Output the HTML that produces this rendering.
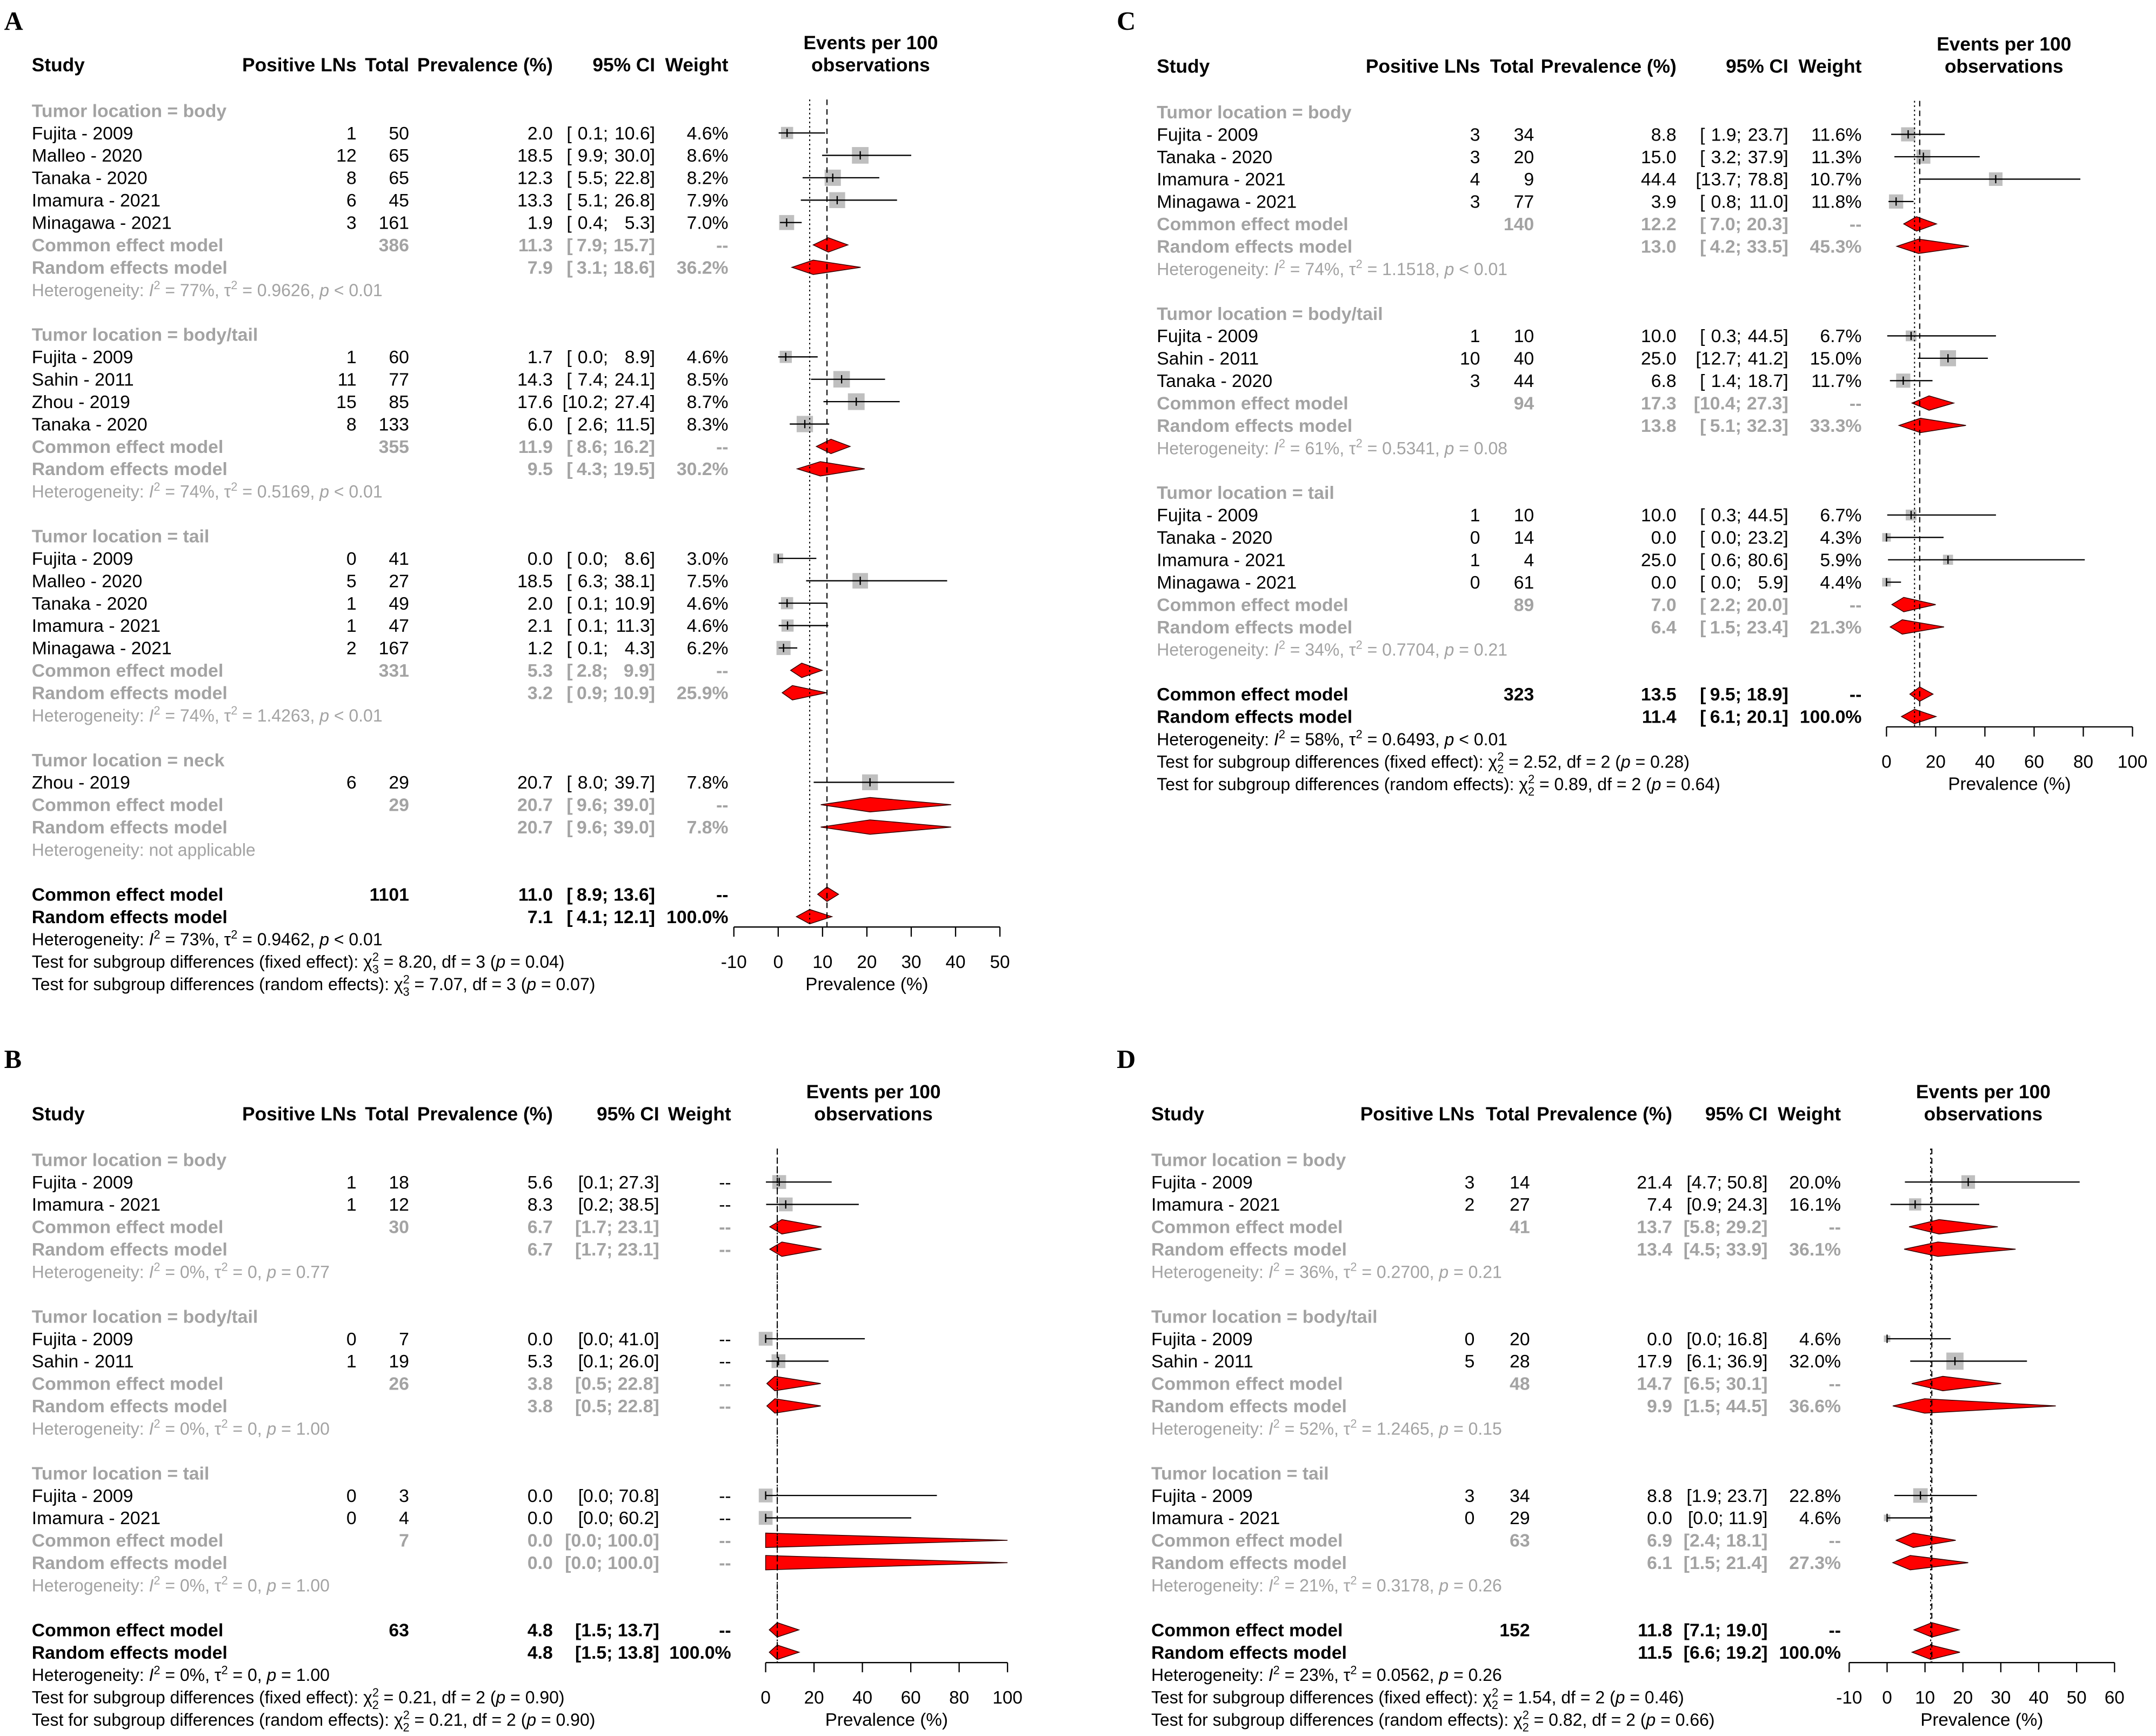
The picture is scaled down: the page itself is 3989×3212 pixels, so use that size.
<!DOCTYPE html>
<html><head><meta charset="utf-8"><style>
html,body{margin:0;padding:0;background:#fff}
svg{display:block;font-family:"Liberation Sans",Arial,sans-serif}
</style></head><body>
<svg id="chart" xmlns="http://www.w3.org/2000/svg" width="3989" height="3212" viewBox="0 0 1560 1256" preserveAspectRatio="none"></svg>
<script>
// ---------- Panel A data ----------
const A_groupLabels = ["body","body/tail","tail","neck"];
const A_studies = [
 [["Fujita - 2009",1,50,2.0,0.1,10.6,4.6],["Malleo - 2020",12,65,18.5,9.9,30.0,8.6],["Tanaka - 2020",8,65,12.3,5.5,22.8,8.2],["Imamura - 2021",6,45,13.3,5.1,26.8,7.9],["Minagawa - 2021",3,161,1.9,0.4,5.3,7.0]],
 [["Fujita - 2009",1,60,1.7,0.0,8.9,4.6],["Sahin - 2011",11,77,14.3,7.4,24.1,8.5],["Zhou - 2019",15,85,17.6,10.2,27.4,8.7],["Tanaka - 2020",8,133,6.0,2.6,11.5,8.3]],
 [["Fujita - 2009",0,41,0.0,0.0,8.6,3.0],["Malleo - 2020",5,27,18.5,6.3,38.1,7.5],["Tanaka - 2020",1,49,2.0,0.1,10.9,4.6],["Imamura - 2021",1,47,2.1,0.1,11.3,4.6],["Minagawa - 2021",2,167,1.2,0.1,4.3,6.2]],
 [["Zhou - 2019",6,29,20.7,8.0,39.7,7.8]]
];
const A_common = [[386,11.3,7.9,15.7],[355,11.9,8.6,16.2],[331,5.3,2.8,9.9],[29,20.7,9.6,39.0]];
const A_random = [[7.9,3.1,18.6,36.2],[9.5,4.3,19.5,30.2],[3.2,0.9,10.9,25.9],[20.7,9.6,39.0,7.8]];
const A_het = [["77%","0.9626","< 0.01"],["74%","0.5169","< 0.01"],["74%","1.4263","< 0.01"],null];
const A_overallCommon = [1101,11.0,8.9,13.6];
const A_overallRandom = [7.1,4.1,12.1,100.0];
const A_overallHet = ["73%","0.9462","< 0.01"];
const A_tests = [["3","8.20","3","= 0.04"],["3","7.07","3","= 0.07"]];
const A_ticks = [-10,0,10,20,30,40,50];

// ---------- Panel B data ----------
const B_groupLabels = ["body","body/tail","tail"];
const B_studies = [
 [["Fujita - 2009",1,18,5.6,0.1,27.3,null],["Imamura - 2021",1,12,8.3,0.2,38.5,null]],
 [["Fujita - 2009",0,7,0.0,0.0,41.0,null],["Sahin - 2011",1,19,5.3,0.1,26.0,null]],
 [["Fujita - 2009",0,3,0.0,0.0,70.8,null],["Imamura - 2021",0,4,0.0,0.0,60.2,null]]
];
const B_common = [[30,6.7,1.7,23.1],[26,3.8,0.5,22.8],[7,0.0,0.0,100.0]];
const B_random = [[6.7,1.7,23.1,null],[3.8,0.5,22.8,null],[0.0,0.0,100.0,null]];
const B_het = [["0%","0","= 0.77"],["0%","0","= 1.00"],["0%","0","= 1.00"]];
const B_overallCommon = [63,4.8,1.5,13.7];
const B_overallRandom = [4.8,1.5,13.8,100.0];
const B_overallHet = ["0%","0","= 1.00"];
const B_tests = [["2","0.21","2","= 0.90"],["2","0.21","2","= 0.90"]];
const B_ticks = [0,20,40,60,80,100];

// ---------- Panel C data ----------
const C_groupLabels = ["body","body/tail","tail"];
const C_studies = [
 [["Fujita - 2009",3,34,8.8,1.9,23.7,11.6],["Tanaka - 2020",3,20,15.0,3.2,37.9,11.3],["Imamura - 2021",4,9,44.4,13.7,78.8,10.7],["Minagawa - 2021",3,77,3.9,0.8,11.0,11.8]],
 [["Fujita - 2009",1,10,10.0,0.3,44.5,6.7],["Sahin - 2011",10,40,25.0,12.7,41.2,15.0],["Tanaka - 2020",3,44,6.8,1.4,18.7,11.7]],
 [["Fujita - 2009",1,10,10.0,0.3,44.5,6.7],["Tanaka - 2020",0,14,0.0,0.0,23.2,4.3],["Imamura - 2021",1,4,25.0,0.6,80.6,5.9],["Minagawa - 2021",0,61,0.0,0.0,5.9,4.4]]
];
const C_common = [[140,12.2,7.0,20.3],[94,17.3,10.4,27.3],[89,7.0,2.2,20.0]];
const C_random = [[13.0,4.2,33.5,45.3],[13.8,5.1,32.3,33.3],[6.4,1.5,23.4,21.3]];
const C_het = [["74%","1.1518","< 0.01"],["61%","0.5341","= 0.08"],["34%","0.7704","= 0.21"]];
const C_overallCommon = [323,13.5,9.5,18.9];
const C_overallRandom = [11.4,6.1,20.1,100.0];
const C_overallHet = ["58%","0.6493","< 0.01"];
const C_tests = [["2","2.52","2","= 0.28"],["2","0.89","2","= 0.64"]];
const C_ticks = [0,20,40,60,80,100];

// ---------- Panel D data ----------
const D_groupLabels = ["body","body/tail","tail"];
const D_studies = [
 [["Fujita - 2009",3,14,21.4,4.7,50.8,20.0],["Imamura - 2021",2,27,7.4,0.9,24.3,16.1]],
 [["Fujita - 2009",0,20,0.0,0.0,16.8,4.6],["Sahin - 2011",5,28,17.9,6.1,36.9,32.0]],
 [["Fujita - 2009",3,34,8.8,1.9,23.7,22.8],["Imamura - 2021",0,29,0.0,0.0,11.9,4.6]]
];
const D_common = [[41,13.7,5.8,29.2],[48,14.7,6.5,30.1],[63,6.9,2.4,18.1]];
const D_random = [[13.4,4.5,33.9,36.1],[9.9,1.5,44.5,36.6],[6.1,1.5,21.4,27.3]];
const D_het = [["36%","0.2700","= 0.21"],["52%","1.2465","= 0.15"],["21%","0.3178","= 0.26"]];
const D_overallCommon = [152,11.8,7.1,19.0];
const D_overallRandom = [11.5,6.6,19.2,100.0];
const D_overallHet = ["23%","0.0562","= 0.26"];
const D_tests = [["2","1.54","2","= 0.46"],["2","0.82","2","= 0.66"]];
const D_ticks = [-10,0,10,20,30,40,50,60];

const NS = "http://www.w3.org/2000/svg";
const svg = document.getElementById('chart');
const GREY = "#a3a3a3", SQ = "#bfbfbf";
const BODY = 13.2;

function mk(tag, parent) {
  const e = document.createElementNS(NS, tag);
  (parent || svg).appendChild(e);
  return e;
}
function txt(g, x, y, s, anchor, name, opt) {
  opt = opt || {};
  const t = mk('text', g);
  t.setAttribute('x', x);
  t.setAttribute('y', y + 4.6);
  t.setAttribute('text-anchor', anchor || 'start');
  t.setAttribute('font-size', opt.size || BODY);
  if (opt.bold) t.setAttribute('font-weight', 'bold');
  t.setAttribute('fill', opt.color || '#000');
  if (opt.family) t.setAttribute('font-family', opt.family);
  t.textContent = s;
  
  
  return t;
}
function tsp(t, s, o) {
  const e = mk('tspan', t);
  o = o || {};
  if (o.dy) e.setAttribute('dy', o.dy);
  if (o.dx) e.setAttribute('dx', o.dx);
  if (o.size) e.setAttribute('font-size', o.size);
  if (o.italic) e.setAttribute('font-style', 'italic');
  e.textContent = s;
  return e;
}
function line(g, x1, y1, x2, y2, name, o) {
  o = o || {};
  const l = mk('line', g);
  l.setAttribute('x1', x1); l.setAttribute('y1', y1);
  l.setAttribute('x2', x2); l.setAttribute('y2', y2);
  l.setAttribute('stroke', o.color || '#000');
  l.setAttribute('stroke-width', o.w || 0.9);
  if (o.dash) l.setAttribute('stroke-dasharray', o.dash);
  
  
  return l;
}

function drawPanel(cfg, labels, studies, common, random, het, oc, orr, ohet, tests, ticks) {
  const g = mk('g');
  
  
  const c = cfg.cols;
  const X = v => cfg.px0 + (v - cfg.vmin) * (cfg.px1 - cfg.px0) / (cfg.vmax - cfg.vmin);
  const vclip = v => Math.max(cfg.vmin, Math.min(cfg.vmax, v));

  txt(g, cfg.lx, cfg.ly, cfg.id, 'start', 'panel-letter', {bold: true, size: 19, family: '"Liberation Serif",serif'});
  const hy = cfg.hdrY;
  const H = {bold: true, size: 13.8};
  txt(g, c.study, hy, 'Study', 'start', 'header-study', H);
  txt(g, c.ev, hy, 'Positive LNs', 'end', 'header-positive-lns', H);
  txt(g, c.tot, hy, 'Total', 'end', 'header-total', H);
  txt(g, c.prev, hy, 'Prevalence (%)', 'end', 'header-prevalence', H);
  txt(g, c.ciR, hy, '95% CI', 'end', 'header-ci', H);
  txt(g, c.wt, hy, 'Weight', 'end', 'header-weight', H);
  txt(g, cfg.evc, hy - 16, 'Events per 100', 'middle', 'header-events-per-100', H);
  txt(g, cfg.evc, hy, 'observations', 'middle', 'header-observations', H);

  function ci(y, lo, hi, o, nm) {
    if (cfg.pad) {
      if (lo >= 10) {
        txt(g, c.ciM, y, '[' + lo.toFixed(1) + ';', 'end', nm, o);
      } else {
        txt(g, c.ciL, y, '[', 'start', nm, o);
        txt(g, c.ciM, y, lo.toFixed(1) + ';', 'end', nm, o);
      }
      txt(g, c.ciR, y, hi.toFixed(1) + ']', 'end', nm, o);
    } else {
      txt(g, c.ciR, y, '[' + lo.toFixed(1) + '; ' + hi.toFixed(1) + ']', 'end', nm, o);
    }
  }
  function diamond(y, est, lo, hi, name) {
    const p = mk('polygon', g);
    const h = 5.2;
    p.setAttribute('points', `${X(vclip(lo))},${y} ${X(est)},${y - h} ${X(vclip(hi))},${y} ${X(est)},${y + h}`);
    p.setAttribute('fill', '#ff0000');
    p.setAttribute('stroke', '#300');
    p.setAttribute('stroke-width', 0.6);
    
    
  }
  function hetText(y, h, color, size) {
    const t = txt(g, c.study, y, 'Heterogeneity: ', 'start', 'heterogeneity-text', {color: color, size: size});
    if (!h) { tsp(t, 'not applicable'); return; }
    tsp(t, 'I', {italic: true});
    tsp(t, '2', {dy: -5, size: 8.5});
    tsp(t, ' = ' + h[0] + ', \u03c4', {dy: 5});
    tsp(t, '2', {dy: -5, size: 8.5});
    tsp(t, ' = ' + h[1] + ', ', {dy: 5});
    tsp(t, 'p', {italic: true});
    tsp(t, ' ' + h[2]);
  }
  const step = cfg.step;
  let y = cfg.y0;
  const grey = {color: GREY, bold: true};
  for (let gi = 0; gi < labels.length; gi++) {
    txt(g, c.study, y, 'Tumor location = ' + labels[gi], 'start', 'subgroup-header', grey);
    y += step;
    for (const r of studies[gi]) {
      txt(g, c.study, y, r[0], 'start', 'study-name');
      txt(g, c.ev, y, String(r[1]), 'end', 'positive-lns-value');
      txt(g, c.tot, y, String(r[2]), 'end', 'total-value');
      txt(g, c.prev, y, r[3].toFixed(1), 'end', 'prevalence-value');
      ci(y, r[4], r[5], {}, 'ci-value');
      txt(g, c.wt, y, r[6] == null ? '--' : r[6].toFixed(1) + '%', 'end', 'weight-value');
      const side = r[6] == null ? cfg.fixedSq : cfg.sqk * Math.sqrt(r[6]);
      const sq = mk('rect', g);
      sq.setAttribute('x', X(r[3]) - side / 2);
      sq.setAttribute('y', y - side / 2);
      sq.setAttribute('width', side);
      sq.setAttribute('height', side);
      sq.setAttribute('fill', SQ);
      
      
      line(g, X(vclip(r[4])), y, X(vclip(r[5])), y, 'study-ci-line');
      line(g, X(r[3]), y - 3, X(r[3]), y + 3, 'study-estimate-tick');
      y += step;
    }
    const cm = common[gi], rm = random[gi];
    txt(g, c.study, y, 'Common effect model', 'start', 'subgroup-common-label', grey);
    txt(g, c.tot, y, String(cm[0]), 'end', 'subgroup-common-total', grey);
    txt(g, c.prev, y, cm[1].toFixed(1), 'end', 'subgroup-common-estimate', grey);
    ci(y, cm[2], cm[3], grey, 'subgroup-common-ci');
    txt(g, c.wt, y, '--', 'end', 'subgroup-common-weight', grey);
    diamond(y, cm[1], cm[2], cm[3], 'subgroup-common-diamond');
    y += step;
    txt(g, c.study, y, 'Random effects model', 'start', 'subgroup-random-label', grey);
    txt(g, c.prev, y, rm[0].toFixed(1), 'end', 'subgroup-random-estimate', grey);
    ci(y, rm[1], rm[2], grey, 'subgroup-random-ci');
    txt(g, c.wt, y, rm[3] == null ? '--' : rm[3].toFixed(1) + '%', 'end', 'subgroup-random-weight', grey);
    diamond(y, rm[0], rm[1], rm[2], 'subgroup-random-diamond');
    y += step;
    hetText(y, het[gi], GREY, 12.5);
    y += 2 * step;
  }
  const b = {bold: true};
  txt(g, c.study, y, 'Common effect model', 'start', 'overall-common-label', b);
  txt(g, c.tot, y, String(oc[0]), 'end', 'overall-common-total', b);
  txt(g, c.prev, y, oc[1].toFixed(1), 'end', 'overall-common-estimate', b);
  ci(y, oc[2], oc[3], b, 'overall-common-ci');
  txt(g, c.wt, y, '--', 'end', 'overall-common-weight', b);
  diamond(y, oc[1], oc[2], oc[3], 'overall-common-diamond');
  y += step;
  txt(g, c.study, y, 'Random effects model', 'start', 'overall-random-label', b);
  txt(g, c.prev, y, orr[0].toFixed(1), 'end', 'overall-random-estimate', b);
  ci(y, orr[1], orr[2], b, 'overall-random-ci');
  txt(g, c.wt, y, orr[3].toFixed(1) + '%', 'end', 'overall-random-weight', b);
  diamond(y, orr[0], orr[1], orr[2], 'overall-random-diamond');
  const axisY = y + 7.5;
  y += step;
  hetText(y, ohet, '#000', 12.5);
  const tl = ['Test for subgroup differences (fixed effect): \u03c7', 'Test for subgroup differences (random effects): \u03c7'];
  for (let i = 0; i < 2; i++) {
    y += step;
    const tt = tests[i];
    const t = txt(g, c.study, y, tl[i], 'start', 'subgroup-test-text', {size: 12.5});
    tsp(t, '2', {dy: -5, size: 8.5});
    tsp(t, tt[0], {dx: -4.8, dy: 9, size: 8.5});
    tsp(t, ' = ' + tt[1] + ', df = ' + tt[2] + ' (', {dy: -4});
    tsp(t, 'p', {italic: true});
    tsp(t, ' ' + tt[3] + ')');
  }
  line(g, X(orr[0]), cfg.lineTop, X(orr[0]), axisY, 'random-effect-reference-line', {dash: '1.2,2', w: 0.8});
  line(g, X(oc[1]), cfg.lineTop, X(oc[1]), axisY, 'common-effect-reference-line', {dash: '4,3', w: 0.8});
  line(g, X(ticks[0]), axisY, X(ticks[ticks.length - 1]), axisY, 'x-axis-line');
  for (const tv of ticks) {
    line(g, X(tv), axisY, X(tv), axisY + 7, 'x-axis-tick');
    txt(g, X(tv), axisY + 25, String(tv), 'middle', 'x-axis-tick-label', {size: 13});
  }
  txt(g, (X(ticks[0]) + X(ticks[ticks.length - 1])) / 2, axisY + 41, 'Prevalence (%)', 'middle', 'x-axis-title', {size: 13});
}

drawPanel({id:'A', lx:3, ly:17, hdrY:47, evc:630, y0:80, step:16.2, lineTop:72, pad:true,
  cols:{study:23, ev:258, tot:296, prev:400, ciL:410, ciM:440, ciR:474, wt:527},
  vmin:-10, vmax:50, px0:531, px1:723.5, sqk:4.1, fixedSq:10},
  A_groupLabels, A_studies, A_common, A_random, A_het, A_overallCommon, A_overallRandom, A_overallHet, A_tests, A_ticks);
drawPanel({id:'C', lx:808, ly:17, hdrY:48, evc:1450, y0:81, step:16.2, lineTop:73, pad:true,
  cols:{study:837, ev:1071, tot:1110, prev:1213, ciL:1230, ciM:1260, ciR:1294, wt:1347},
  vmin:0, vmax:100, px0:1365, px1:1543, sqk:3, fixedSq:10},
  C_groupLabels, C_studies, C_common, C_random, C_het, C_overallCommon, C_overallRandom, C_overallHet, C_tests, C_ticks);
drawPanel({id:'B', lx:3, ly:768, hdrY:806, evc:632, y0:839, step:16.2, lineTop:831, pad:false,
  cols:{study:23, ev:258, tot:296, prev:400, ciR:477, wt:529},
  vmin:0, vmax:100, px0:554, px1:729, sqk:3, fixedSq:10},
  B_groupLabels, B_studies, B_common, B_random, B_het, B_overallCommon, B_overallRandom, B_overallHet, B_tests, B_ticks);
drawPanel({id:'D', lx:808, ly:768, hdrY:806, evc:1435, y0:839, step:16.2, lineTop:831, pad:false,
  cols:{study:833, ev:1067, tot:1107, prev:1210, ciR:1279, wt:1332},
  vmin:-10, vmax:60, px0:1338, px1:1530, sqk:2.2, fixedSq:10},
  D_groupLabels, D_studies, D_common, D_random, D_het, D_overallCommon, D_overallRandom, D_overallHet, D_tests, D_ticks);
</script>
</body></html>
